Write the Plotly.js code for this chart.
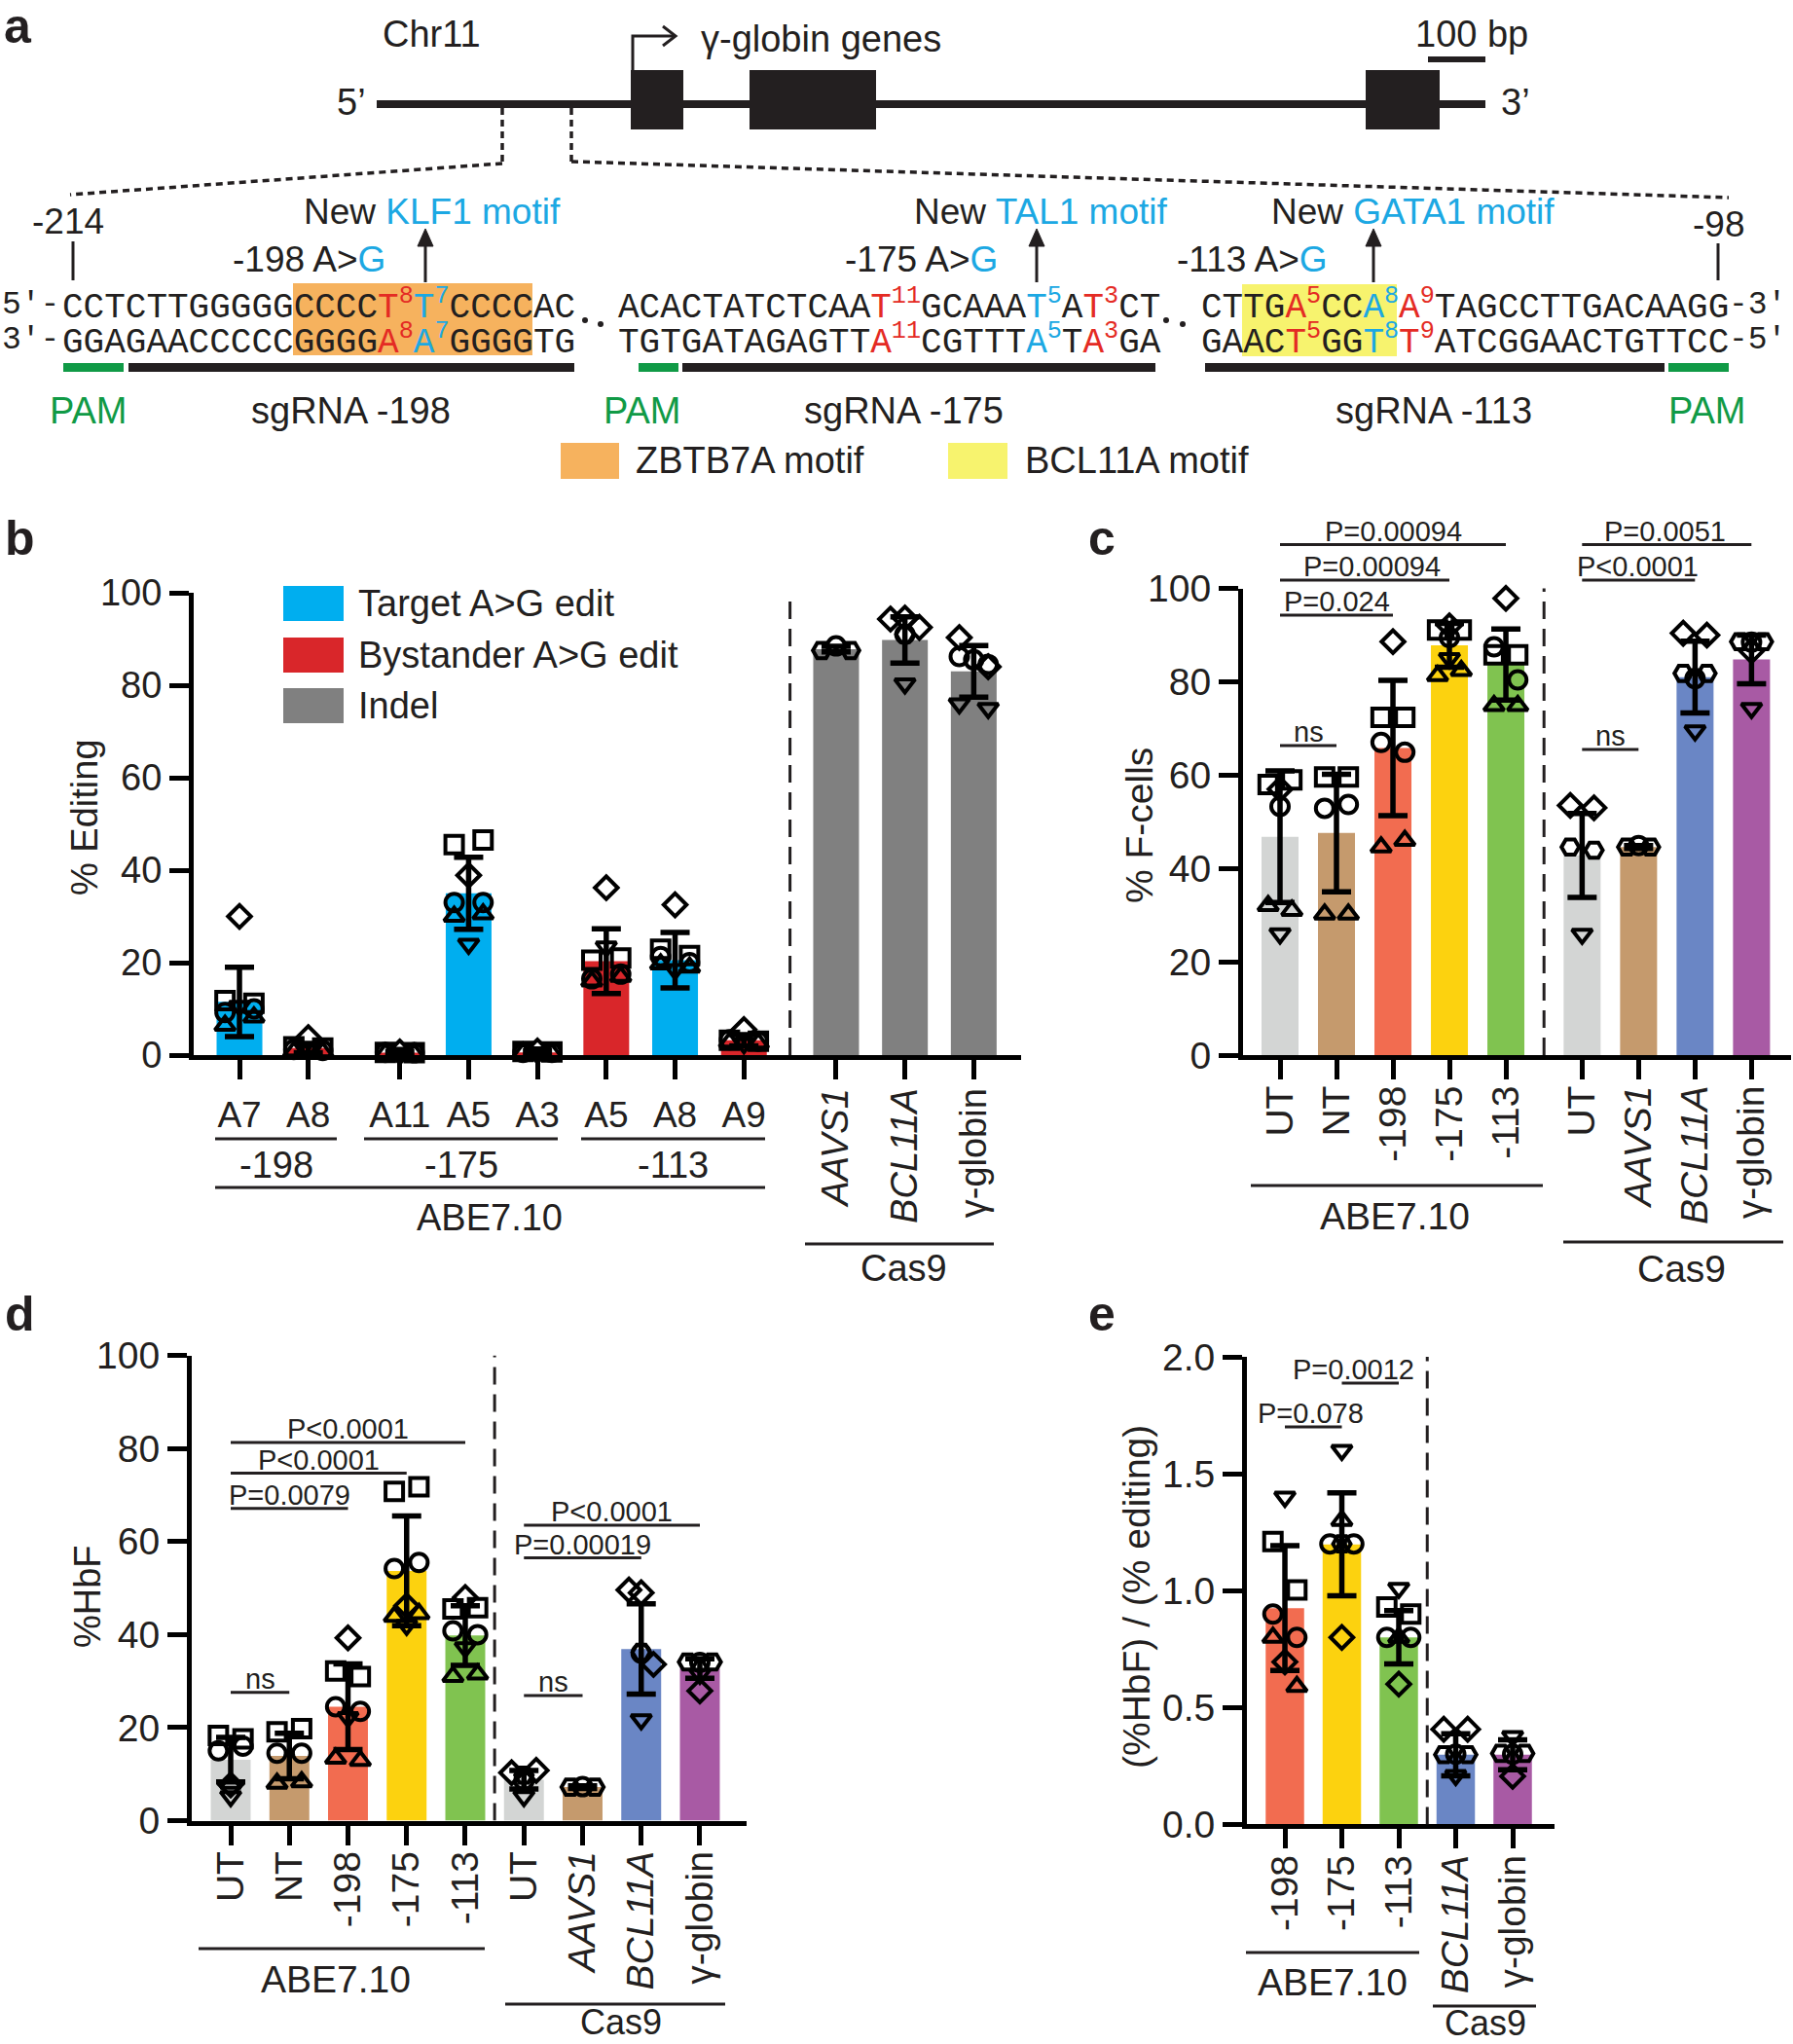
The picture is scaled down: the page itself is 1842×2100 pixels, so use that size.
<!DOCTYPE html>
<html><head><meta charset="utf-8">
<script src="https://cdn.plot.ly/plotly-3.0.1.min.js"></script>
<style>html,body{margin:0;padding:0;background:#fff}</style>
</head><body><div id="chart" style="width:1842px;height:2100px"></div>
<script>
// ================= DATA =================
// Panel a: sequences ([r|b:base:index] = red/blue edited base with superscript index)
const seqTop = ['CCTCTTGGGGGCCCC[r:T:8][b:T:7]CCCCAC', 'ACACTATCTCAA[r:T:11]GCAAA[b:T:5]A[r:T:3]CT', 'CTTG[r:A:5]CC[b:A:8][r:A:9]TAGCCTTGACAAGG'];
const seqBot = ['GGAGAACCCCCGGGG[r:A:8][b:A:7]GGGGTG', 'TGTGATAGAGTT[r:A:11]CGTTT[b:A:5]T[r:A:3]GA', 'GAAC[r:T:5]GG[b:T:8][r:T:9]ATCGGAACTGTTCC'];
const siteLabels = ['-198', '-175', '-113'];
const newMotifs = ['KLF1', 'TAL1', 'GATA1'];
const sgRNAs = ['sgRNA -198', 'sgRNA -175', 'sgRNA -113'];

// Panel b: % editing
const bLabels = ['A7', 'A8', 'A11', 'A5', 'A3', 'A5', 'A8', 'A9'];
const bCas9Labels = ['<i>AAVS1</i>', '<i>BCL11A</i>', 'γ-globin'];
const bKind = ['target', 'bystander', 'bystander', 'target', 'bystander', 'bystander', 'target', 'bystander', 'indel', 'indel', 'indel'];
const bMean = [11.5, 1.5, 0.5, 35.0, 0.6, 20.3, 20.5, 3.2, 87.8, 89.8, 83.0];
const bSD = [7.5, 1.0, 0.3, 7.8, 0.3, 7.0, 6.0, 1.2, 0.6, 5.0, 5.6];
const bPts = [
  [11.8, 11.2, 9.2, 10.0, 6.4, 8.2, 10.6, 30.0],
  [1.8, 1.5, 1.2, 1.0, 0.8, 0.7, 1.3, 3.8],
  [0.6, 0.5, 0.6, 0.5, 0.4, 0.3, 0.4, 0.7],
  [45.5, 46.5, 33.0, 33.0, 30.0, 30.5, 24.0, 38.9],
  [0.8, 0.7, 0.6, 0.6, 0.5, 0.4, 0.5, 0.9],
  [20.5, 21.0, 16.5, 17.5, 16.0, 17.0, 23.4, 36.2],
  [22.9, 21.5, 21.3, 20.0, 19.7, 19.0, 18.5, 32.5],
  [3.2, 3.0, 3.3, 3.0, 2.8, 2.6, 2.5, 5.5],
  [87.5, 88.5, 87.5],
  [94.3, 94.5, 91.0, 91.0, 92.5, 80.3],
  [90.3, 86.2, 85.5, 84.0, 84.5, 76.0, 75.0]
];
const bSym = ['ssoo^^vd', 'ssoo^^vd', 'ssoo^^vd', 'ssoo^^vd', 'ssoo^^vd', 'ssoo^^vd', 'ssoo^^vd', 'ssoo^^vd', 'hoh', 'ddohdv', 'doodovv'];

// Panel c: % F-cells
const cLabels = ['UT', 'NT', '-198', '-175', '-113', 'UT', '<i>AAVS1</i>', '<i>BCL11A</i>', 'γ-globin'];
const cMean = [46.8, 47.6, 65.8, 87.8, 83.7, 42.8, 44.6, 81.0, 84.8];
const cSD = [14.1, 12.6, 14.5, 4.7, 7.6, 9.0, 0.3, 7.7, 5.2];
const cPts = [
  [58, 59, 53.3, 32, 31, 26, 57],
  [59.6, 59.6, 52.9, 53.7, 30.2, 30.2],
  [72.4, 72.4, 67, 64.9, 44.6, 46, 88.6],
  [91.1, 91.1, 89.5, 85, 81.3, 82.4, 92],
  [85.8, 85.8, 87.5, 80.4, 74.9, 74.9, 97.9],
  [53.5, 53, 44.6, 43.9, 25.9],
  [44.6, 44.9, 44.6],
  [90.4, 90, 81.8, 81.8, 80.7, 69.5],
  [88.6, 88.6, 88.5, 86.6, 74.3]
];
const cSym = ['sso^^vd', 'ssoo^^', 'ssoo^^d', 'ssov^^d', 'ssoo^^d', 'ddhhv', 'hoh', 'ddhhov', 'hhodv'];

// Panel d: %HbF
const dMean = [13.1, 13.9, 24.5, 53.7, 39.8, 8.8, 7.2, 36.9, 32.7];
const dSD = [4.8, 4.9, 9.2, 11.8, 6.4, 2.0, 0.3, 9.7, 2.1];
const dPts = [
  [18.3, 17.6, 15, 16, 7.7, 8, 5.2],
  [19.1, 19.8, 14.5, 14.5, 8, 8.3],
  [32.2, 31, 24.5, 23.5, 22.2, 13.4, 12.9, 39.3],
  [70.8, 71.8, 54.2, 55.5, 46.2, 42, 43.9, 44.5],
  [45.5, 45.8, 40.8, 40, 37.2, 31, 31.5, 48],
  [10.3, 10.8, 9.8, 8.6, 5.2],
  [7.2, 7.3, 7.2],
  [49.6, 49, 36.2, 36, 33.6, 21.7],
  [34.1, 34.1, 34, 31.5, 27.9]
];
const dSym = ['ssood^v', 'ssoo^^', 'ssoov^^d', 'ssoodv^^', 'ssoov^^d', 'ddhov', 'hoh', 'ddhodv', 'hhovd'];

// Panel e: (%HbF)/(% editing)
const eLabels = ['-198', '-175', '-113', '<i>BCL11A</i>', 'γ-globin'];
const eMean = [0.925, 1.198, 0.80, 0.298, 0.298];
const eSD = [0.267, 0.22, 0.114, 0.09, 0.064];
const ePts = [
  [1.21, 1.003, 0.90, 0.80, 0.80, 0.59, 1.40, 0.695],
  [1.2, 1.2, 1.2, 1.30, 1.60, 0.80],
  [0.93, 0.90, 0.80, 0.80, 0.80, 1.01, 0.60],
  [0.407, 0.407, 0.298, 0.298, 0.30, 0.21],
  [0.376, 0.304, 0.304, 0.30, 0.206]
];
const eSym = ['ssoo^^vd', 'ooh^vd', 'ssoo^vd', 'ddhhov', 'vhhod'];

// P-value brackets: [from index, to index, text]
const cStats = [[0, 4, 'P=0.00094'], [0, 3, 'P=0.00094'], [0, 2, 'P=0.024'], [0, 1, 'ns'], [5, 8, 'P=0.0051'], [5, 7, 'P&lt;0.0001'], [5, 6, 'ns']];
const dStats = [[0, 4, 'P&lt;0.0001'], [0, 3, 'P&lt;0.0001'], [0, 2, 'P=0.0079'], [0, 1, 'ns'], [5, 8, 'P&lt;0.0001'], [5, 7, 'P=0.00019'], [5, 6, 'ns']];
const eStats = [[1, 2, 'P=0.0012'], [0, 1, 'P=0.078']];

// ================= STYLE / LAYOUT =================
const W = 1842, H = 2100;
const X = p => p / W, Y = p => 1 - p / H;
const SANS = '"Liberation Sans", Arial, sans-serif';
const MONO = '"Liberation Mono", "Courier New", monospace';
const INK = '#231F20';
const BLUE_T = '#1CA8E3', RED_T = '#E42B24', GREEN_T = '#109A46';
const KIND_COLORS = {target: '#00AEEF', bystander: '#D9262A', indel: '#808080'};
const GROUP_COLORS = ['#D3D5D4', '#C59A6D', '#F26C50', '#FCD20F', '#80C350', '#D3D5D4', '#C59A6D', '#6A86C5', '#A85AA4'];
const E_COLORS = ['#F26C50', '#FCD20F', '#80C350', '#6A86C5', '#A85AA4'];
const SYM = {s: 'square-open', o: 'circle-open', '^': 'triangle-up-open', v: 'triangle-down-open', d: 'diamond-open', h: 'hexagon2-open'};

function positions(sizes, gaps) {
  const out = []; let x = 0;
  sizes.forEach((n, g) => { x += gaps[g]; for (let i = 0; i < n; i++) { out.push(x); x += 1; } });
  return out;
}
const bPos = positions([2, 3, 3, 3], [0, 0.33, 0, 0.34]);
const cPos = positions([5, 4], [0, 0.35]);
const dPos = positions([5, 4], [0, 0]);
const ePos = positions([3, 2], [0, 0]);

function jitter(syms, spread) {
  const counts = {}, seen = {};
  syms.forEach(s => counts[s] = (counts[s] || 0) + 1);
  return syms.map(s => {
    const n = counts[s]; const k = (seen[s] = (seen[s] || 0) + 1);
    return n === 1 ? 0 : -spread + 2 * spread * (k - 1) / (n - 1);
  });
}

function panelTraces(xa, ya, pos, mean, sd, colors, pts, syms, bw) {
  const px = [], py = [], ps = [];
  pts.forEach((vals, i) => {
    const sy = syms[i].split('');
    const jit = jitter(sy, 0.21);
    vals.forEach((v, k) => { px.push(pos[i] + jit[k]); py.push(v); ps.push(SYM[sy[k]]); });
  });
  return [
    {type: 'bar', x: pos, y: mean, width: bw, xaxis: xa, yaxis: ya, marker: {color: colors, line: {width: 0}}, hoverinfo: 'skip'},
    {type: 'scatter', mode: 'markers', x: px, y: py, xaxis: xa, yaxis: ya, cliponaxis: false, hoverinfo: 'skip',
      marker: {symbol: ps, size: 18, color: 'black', line: {width: 4, color: 'black'}}},
    {type: 'scatter', mode: 'markers', x: pos, y: mean, xaxis: xa, yaxis: ya, cliponaxis: false, hoverinfo: 'skip',
      marker: {size: 1, color: 'rgba(0,0,0,0)'},
      error_y: {type: 'data', array: sd, visible: true, color: 'black', thickness: 5.5, width: 15}}
  ];
}

const traces = [].concat(
  panelTraces('x', 'y', bPos, bMean, bSD, bKind.map(k => KIND_COLORS[k]), bPts, bSym, 0.665),
  panelTraces('x2', 'y2', cPos, cMean, cSD, GROUP_COLORS, cPts, cSym, 0.655),
  panelTraces('x3', 'y3', dPos, dMean, dSD, GROUP_COLORS, dPts, dSym, 0.68),
  panelTraces('x4', 'y4', ePos, eMean, eSD, E_COLORS, ePts, eSym, 0.675),
  [{type: 'scatter', mode: 'markers', x: [bPos[8]], y: [0], xaxis: 'x5', yaxis: 'y', marker: {size: 1, color: 'rgba(0,0,0,0)'}, hoverinfo: 'skip'}]
);

function tf(size) { return {family: SANS, size, color: INK}; }
function xAxis(dom, range, anchor, vals, text, angle, fs, standoff) {
  return {domain: [X(dom[0]), X(dom[1])], range, anchor, tickvals: vals, ticktext: text, tickangle: angle,
    ticks: 'outside', ticklen: 20, tickwidth: 5, tickcolor: 'black', showline: true, linewidth: 5, linecolor: 'black',
    showgrid: false, zeroline: false, tickfont: tf(fs), ticklabelstandoff: standoff, fixedrange: true};
}
function yAxis(dom, range, anchor, vals, fmt, fs) {
  return {domain: [Y(dom[1]), Y(dom[0])], range, anchor, tickvals: vals, tickformat: fmt,
    ticks: 'outside', ticklen: 20, tickwidth: 5, tickcolor: 'black', showline: true, linewidth: 5, linecolor: 'black',
    showgrid: false, zeroline: false, tickfont: tf(fs), fixedrange: true};
}

const layout = {
  width: W, height: H, margin: {l: 0, r: 0, t: 0, b: 0}, paper_bgcolor: 'white', plot_bgcolor: 'rgba(0,0,0,0)',
  showlegend: false, font: {family: SANS, color: INK},
  xaxis: xAxis([199, 1049], [-0.665, 11.358], 'y', bPos, bLabels.concat(['', '', '']), 0, 37, 5),
  yaxis: yAxis([609, 1084], [0, 100], 'x', [0, 20, 40, 60, 80, 100], undefined, 38),
  xaxis5: Object.assign(xAxis([199, 1049], [-0.665, 11.358], 'y', bPos.slice(8), bCas9Labels, -90, 38, -2),
    {overlaying: 'x', showline: false, tickcolor: 'rgba(0,0,0,0)'}),
  xaxis2: xAxis([1277, 1840], [-0.655, 9.05], 'y2', cPos, cLabels, -90, 39, -9),
  yaxis2: yAxis([604.6, 1084], [0, 100], 'x2', [0, 20, 40, 60, 80, 100], undefined, 39),
  xaxis3: xAxis([197, 767], [-0.664, 8.797], 'y3', dPos, cLabels, -90, 39, -9),
  yaxis3: yAxis([1392.7, 1870.5], [0, 100], 'x3', [0, 20, 40, 60, 80, 100], undefined, 39),
  xaxis4: xAxis([1281, 1597], [-0.667, 4.735], 'y4', ePos, eLabels, -90, 39, -9),
  yaxis4: yAxis([1394, 1874.4], [0, 2], 'x4', [0, 0.5, 1, 1.5, 2], '.1f', 39),
  shapes: [], annotations: []
};
const S = layout.shapes, A = layout.annotations;

function ann(text, px, py, o = {}) {
  return {xref: 'paper', yref: 'paper', x: X(px), y: Y(py), text, showarrow: false,
    xanchor: o.xa || 'center', yanchor: o.ya || 'middle', textangle: o.angle || 0, borderpad: 0,
    font: {family: o.family || SANS, size: o.size || 38, color: o.color || INK}};
}
function line(x0, y0, x1, y1, w = 3, color = INK, dash = 'solid') {
  return {type: 'line', xref: 'paper', yref: 'paper', x0: X(x0), y0: Y(y0), x1: X(x1), y1: Y(y1), line: {color, width: w, dash}};
}
function rect(x0, y0, x1, y1, color) {
  return {type: 'rect', xref: 'paper', yref: 'paper', x0: X(x0), y0: Y(y0), x1: X(x1), y1: Y(y1), fillcolor: color, line: {width: 0}, layer: 'below'};
}
function path(pts, closed, fill, w = 3) {
  const d = pts.map((p, i) => (i ? 'L' : 'M') + X(p[0]) + ',' + Y(p[1])).join(' ') + (closed ? ' Z' : '');
  return {type: 'path', xref: 'paper', yref: 'paper', path: d, fillcolor: fill || 'rgba(0,0,0,0)', line: {color: INK, width: w}};
}

// ---------- Panel a ----------
A.push(ann('<b>a</b>', 18, 27, {size: 50}));
A.push(ann('Chr11', 443, 35));
A.push(ann('γ-globin genes', 719, 40, {xa: 'left'}));
A.push(ann('100 bp', 1512, 35));
A.push(ann('5’', 361, 105));
A.push(ann('3’', 1557, 105));
S.push(line(387, 107, 1526, 107, 8));
S.push(line(1467, 61, 1526, 61, 6));
[[648, 702], [770, 900], [1403, 1479]].forEach(b => S.push(Object.assign(rect(b[0], 72, b[1], 133, INK), {layer: 'above'})));
S.push(path([[650, 72], [650, 37], [693, 37]], false, null, 3));
S.push(path([[681, 27], [694, 37], [681, 47]], false, null, 3));
S.push(line(516, 111, 516, 168, 3.5, INK, '7px,5px'));
S.push(line(516, 168, 72, 200, 3.5, INK, '7px,5px'));
S.push(line(587, 111, 587, 166, 3.5, INK, '7px,5px'));
S.push(line(587, 166, 1776, 203, 3.5, INK, '7px,5px'));
A.push(ann('-214', 70, 228, {size: 37}));
S.push(line(75, 248, 75, 288, 3));
A.push(ann('-98', 1765, 230, {size: 37}));
S.push(line(1765, 250, 1765, 288, 3));

// motif highlight boxes
S.push(rect(301, 291, 547, 365, '#F6B25E'));
S.push(rect(1276, 292, 1435, 366, '#F7F36E'));

const SEQ_FS = 36, segStart = [63, 634, 1233];
function seqHTML(s) {
  return s.replace(/\[(r|b):(\w):(\d+)\]/g, (m, c, base, n) =>
    `<span style="color:${c === 'r' ? RED_T : BLUE_T}">${base}<sup>${n}</sup></span>`);
}
seqTop.forEach((s, i) => A.push(ann(seqHTML(s), segStart[i], 313, {xa: 'left', family: MONO, size: SEQ_FS})));
seqBot.forEach((s, i) => A.push(ann(seqHTML(s), segStart[i], 349, {xa: 'left', family: MONO, size: SEQ_FS})));
A.push(ann('5′-', 62, 313, {xa: 'right', family: MONO, size: 33}));
A.push(ann('3′-', 62, 349, {xa: 'right', family: MONO, size: 33}));
A.push(ann('-3′', 1775, 313, {xa: 'left', family: MONO, size: 33}));
A.push(ann('-5′', 1775, 349, {xa: 'left', family: MONO, size: 33}));
[[601, 329], [617, 333], [1198, 329], [1215, 333]].forEach(p =>
  S.push({type: 'circle', xref: 'paper', yref: 'paper', x0: X(p[0] - 3), x1: X(p[0] + 3), y0: Y(p[1] + 3), y1: Y(p[1] - 3), fillcolor: INK, line: {width: 0}}));

// sgRNA / PAM bars
[[65, 127, GREEN_T], [132, 590, INK], [656, 697, GREEN_T], [701, 1187, INK], [1238, 1710, INK], [1714, 1776, GREEN_T]]
  .forEach(b => S.push(Object.assign(rect(b[0], 373, b[1], 382, b[2]), {layer: 'above'})));
[91, 660, 1754].forEach(x => A.push(ann('PAM', x, 422, {color: GREEN_T})));
[360, 928, 1473].forEach((x, i) => A.push(ann(sgRNAs[i], x, 422)));

// edits and new motifs
const editLabelX = [238, 867, 1208], arrowX = [437, 1065, 1411], motifX = [311, 938, 1305];
siteLabels.forEach((s, i) => {
  A.push(ann(`${s} A&gt;<span style="color:${BLUE_T}">G</span>`, editLabelX[i], 266, {xa: 'left', size: 37}));
  A.push(ann(`New <span style="color:${BLUE_T}">${newMotifs[i]} motif</span>`, motifX[i], 218, {xa: 'left', size: 37}));
  S.push(line(arrowX[i], 290, arrowX[i], 250, 3));
  S.push(path([[arrowX[i] - 8, 253], [arrowX[i] + 8, 253], [arrowX[i], 235]], true, INK, 1));
});

// motif legend
S.push(rect(576, 455, 636, 492, '#F6B25E'));
S.push(rect(974, 455, 1035, 492, '#F7F36E'));
A.push(ann('ZBTB7A motif', 652, 473, {xa: 'left'}));
A.push(ann('BCL11A motif', 1052, 473, {xa: 'left'}));

// ---------- Panel b ----------
A.push(ann('<b>b</b>', 20, 553, {size: 50}));
A.push(ann('% Editing', 87, 840, {angle: -90, size: 38}));
[['Target A&gt;G edit', 'target', 620], ['Bystander A&gt;G edit', 'bystander', 673], ['Indel', 'indel', 725]].forEach(l => {
  S.push(rect(291, l[2] - 18, 353, l[2] + 18, KIND_COLORS[l[1]]));
  A.push(ann(l[0], 367, l[2], {xa: 'left', size: 38}));
});
S.push({type: 'line', xref: 'x', yref: 'y', x0: 8, x1: 8, y0: 0, y1: 102, line: {color: INK, width: 3, dash: '18px,10px'}});
[[221, 346], [374, 573], [597, 786]].forEach((l, i) => {
  S.push(line(l[0], 1170, l[1], 1170, 3));
  A.push(ann(siteLabels[i], (l[0] + l[1]) / 2, 1197, {size: 38}));
});
S.push(line(221, 1220, 786, 1220, 3));
A.push(ann('ABE7.10', 503, 1251, {size: 38}));
S.push(line(827, 1278, 1021, 1278, 3));
A.push(ann('Cas9', 928, 1303, {size: 38}));

// ---------- brackets helper ----------
function brackets(list, pos, pxOf, lineY, textDX) {
  list.forEach((b, k) => {
    const x0 = pxOf(pos[b[0]]), x1 = pxOf(pos[b[1]]);
    S.push(line(x0, lineY[k], x1, lineY[k], 3));
    A.push(ann(b[2], (x0 + x1) / 2 + (textDX[k] || 0), lineY[k] - 14, {size: 29}));
  });
}

// ---------- Panel c ----------
A.push(ann('<b>c</b>', 1132, 553, {size: 50}));
A.push(ann('% F-cells', 1170, 848, {angle: -90, size: 39}));
S.push({type: 'line', xref: 'x2', yref: 'y2', x0: 4.675, x1: 4.675, y0: 0, y1: 102.8, line: {color: INK, width: 3, dash: '18px,10px'}});
brackets(cStats, cPos, v => 1315 + v * 58, [559.5, 596, 632, 766, 559.5, 596, 770], [0, 7, 0, 0, -2, -1, 0]);
S.push(line(1285, 1218, 1585, 1218, 3));
A.push(ann('ABE7.10', 1433, 1249, {size: 39}));
S.push(line(1606, 1276, 1832, 1276, 3));
A.push(ann('Cas9', 1727, 1303, {size: 39}));

// ---------- Panel d ----------
A.push(ann('<b>d</b>', 20, 1350, {size: 50}));
A.push(ann('%HbF', 90, 1640, {angle: -90, size: 38}));
S.push({type: 'line', xref: 'x3', yref: 'y3', x0: 4.5, x1: 4.5, y0: 0, y1: 101.6, line: {color: INK, width: 3, dash: '18px,10px'}});
brackets(dStats, dPos, v => 237 + v * 60.25, [1482, 1513.6, 1549.7, 1738.7, 1567, 1600.5, 1742], [0, 0, 0, 0, 0, 0, 0]);
S.push(line(204, 2002, 498, 2002, 3));
A.push(ann('ABE7.10', 345, 2033, {size: 39}));
S.push(line(519, 2059, 745, 2059, 3));
A.push(ann('Cas9', 638, 2077, {size: 36}));

// ---------- Panel e ----------
A.push(ann('<b>e</b>', 1132, 1350, {size: 50}));
A.push(ann('(%HbF) / (% editing)', 1167, 1641, {angle: -90, size: 39}));
S.push({type: 'line', xref: 'x4', yref: 'y4', x0: 2.5, x1: 2.5, y0: 0, y1: 2.0, line: {color: INK, width: 3, dash: '18px,10px'}});
brackets(eStats, ePos, v => 1320 + v * 58.5, [1421, 1466], [-17, -3]);
S.push(line(1280, 2006, 1458, 2006, 3));
A.push(ann('ABE7.10', 1369, 2036, {size: 39}));
S.push(line(1472, 2061, 1578, 2061, 3));
A.push(ann('Cas9', 1526, 2078, {size: 36}));

Plotly.newPlot('chart', traces, layout, {staticPlot: true, displayModeBar: false});
</script></body></html>
